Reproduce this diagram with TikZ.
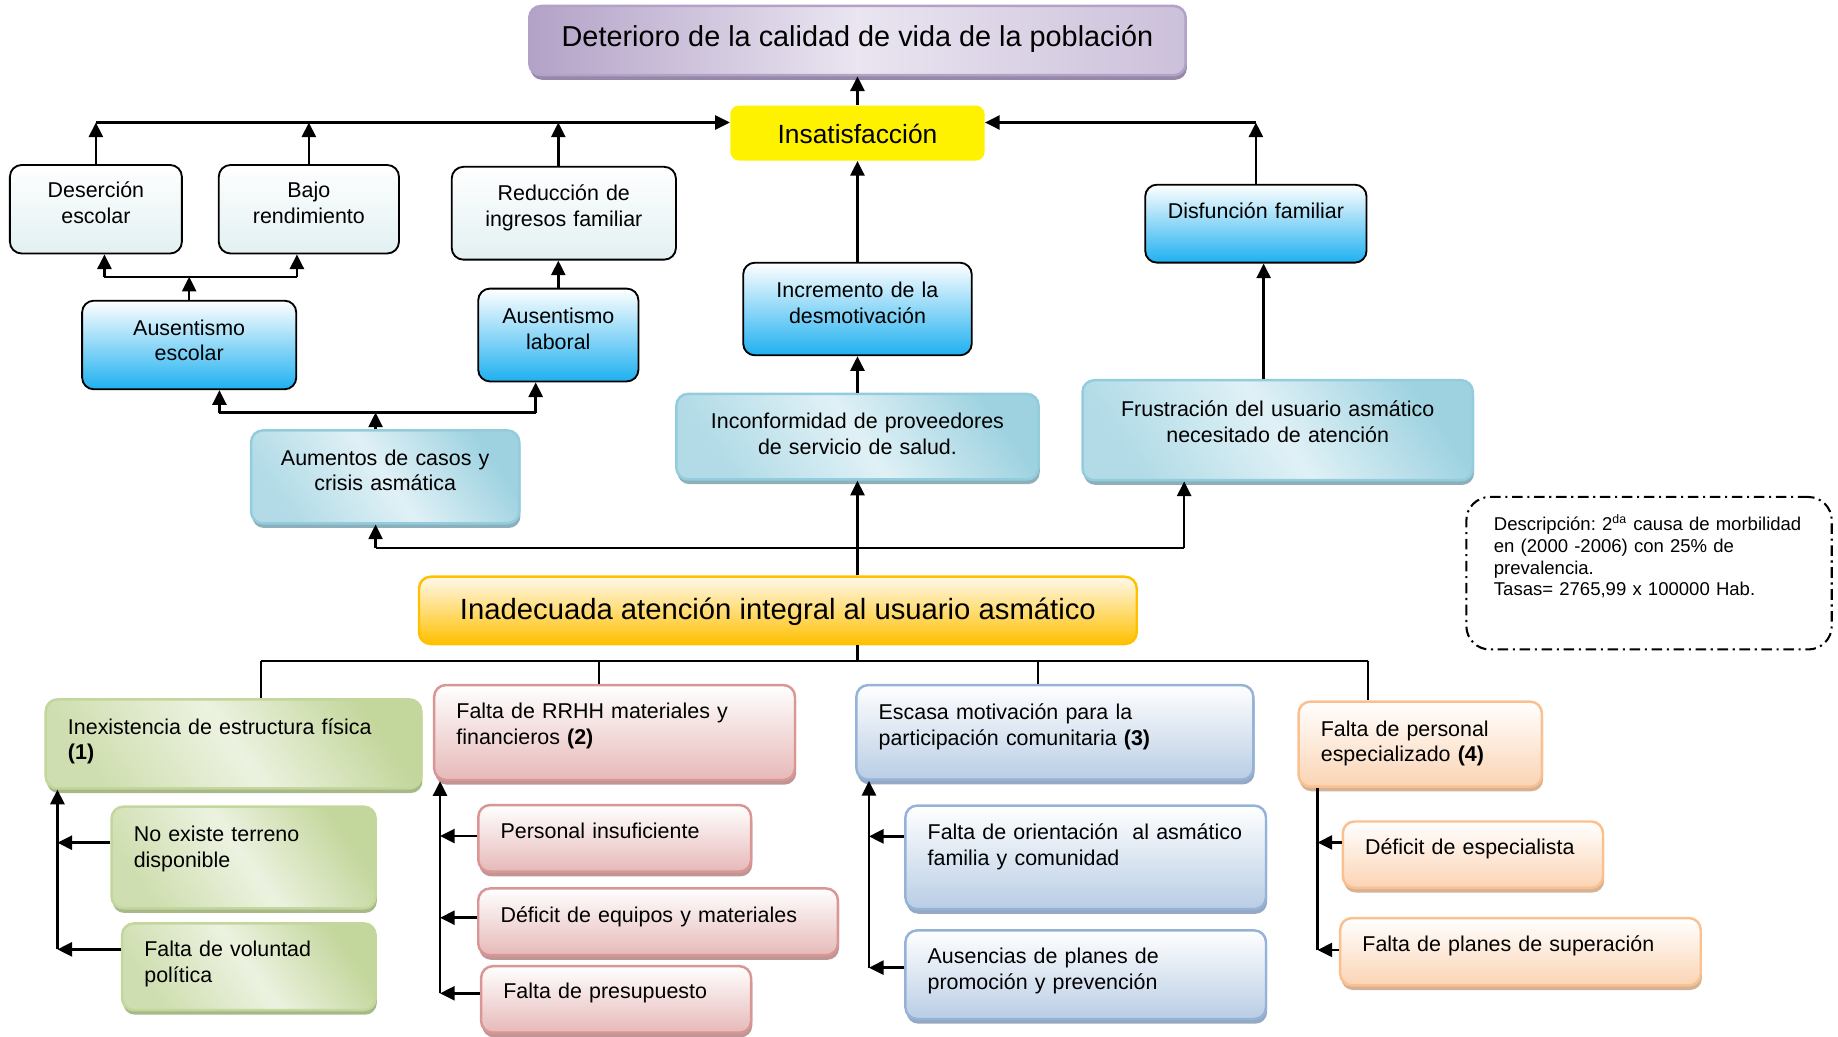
\documentclass[tikz,border=0pt]{standalone}
\usepackage{fontspec}
\setmainfont{Liberation Sans}
\usetikzlibrary{arrows.meta,shadows}
\frenchspacing

\definecolor{paleC}{RGB}{226,240,242}
\definecolor{skyC}{RGB}{30,176,240}
\definecolor{tealD}{RGB}{147,205,221}
\definecolor{tealL}{RGB}{224,241,246}
\definecolor{tealS}{RGB}{140,175,188}
\definecolor{purD}{RGB}{179,162,199}
\definecolor{purL}{RGB}{234,229,241}
\definecolor{purS}{RGB}{150,136,168}
\definecolor{greenD}{RGB}{195,214,155}
\definecolor{greenL}{RGB}{236,242,224}
\definecolor{greenS}{RGB}{168,184,136}
\definecolor{pinkD}{RGB}{230,185,184}
\definecolor{pinkB}{RGB}{217,150,148}
\definecolor{pinkS}{RGB}{190,150,150}
\definecolor{bluD}{RGB}{185,205,229}
\definecolor{bluB}{RGB}{149,179,215}
\definecolor{bluS}{RGB}{150,168,195}
\definecolor{peachD}{RGB}{251,212,180}
\definecolor{peachB}{RGB}{250,192,144}
\definecolor{peachS}{RGB}{212,178,150}
\definecolor{oraD}{RGB}{255,192,0}
\definecolor{oraL}{RGB}{255,249,235}

\begin{document}
\begin{tikzpicture}[x=0.2mm, y=-0.2mm,
    csize/.style 2 args={minimum width=#1*0.2mm, minimum height=#2*0.2mm,
                         text width={(#1-20)*0.2mm}, align=center},
    lsize/.style 2 args={text width={(#1-38)*0.2mm}, inner xsep=3.8mm,
                         minimum height=#2*0.2mm, align=left},
    lift/.style 2 args={text height=7.6pt, text depth={(#1-1)*12.5pt+2.4pt+(#2-1.6)*0.4mm}}]
    \tikzstyle{box}=[rectangle, rounded corners=2mm, inner xsep=1mm, inner ysep=0.5mm,
                     font=\fontsize{10.4}{12.5}\selectfont]
    \tikzstyle{palebox}=[box, draw=black, line width=0.9pt, top color=white, bottom color=paleC]
    \tikzstyle{skybox}=[box, draw=black, line width=0.9pt, top color=white, bottom color=skyC]
    \tikzstyle{tealbox}=[box, draw=tealD, line width=1.2pt, top color=tealD!85!tealL,
                         bottom color=tealD!60!tealL, middle color=tealL, shading angle=-55,
                         drop shadow={shadow xshift=0.2mm, shadow yshift=-0.8mm, fill=tealS, opacity=1}]
    \tikzstyle{purbox}=[box, draw=purD, line width=1.2pt, left color=purD,
                        right color=purD!55!purL, middle color=purL,
                        drop shadow={shadow xshift=0.2mm, shadow yshift=-0.8mm, fill=purS, opacity=1}]
    \tikzstyle{yellowbox}=[rectangle, rounded corners=1.5mm, fill=yellow]
    \tikzstyle{orabox}=[box, draw=oraD, line width=1.2pt, top color=oraL, bottom color=oraD]
    \tikzstyle{greenbox}=[box, draw=greenD, line width=1.2pt, top color=greenD,
                          bottom color=greenD!70!greenL, middle color=greenL, shading angle=-55,
                          drop shadow={shadow xshift=0.2mm, shadow yshift=-0.8mm, fill=greenS, opacity=1}]
    \tikzstyle{pinkbox}=[box, draw=pinkB, line width=1.2pt, top color=white, bottom color=pinkD,
                         drop shadow={shadow xshift=0.2mm, shadow yshift=-0.8mm, fill=pinkS, opacity=1}]
    \tikzstyle{blubox}=[box, draw=bluB, line width=1.2pt, top color=white, bottom color=bluD,
                        drop shadow={shadow xshift=0.2mm, shadow yshift=-0.8mm, fill=bluS, opacity=1}]
    \tikzstyle{peachbox}=[box, draw=peachB, line width=1.2pt, top color=white, bottom color=peachD,
                          drop shadow={shadow xshift=0.2mm, shadow yshift=-0.8mm, fill=peachS, opacity=1}]
    \tikzstyle{notebox}=[rectangle, rounded corners=4mm, draw=black, line width=1pt,
                         dash pattern=on 1.8mm off 0.8mm on 0.35mm off 0.8mm]
    \tikzstyle{arr}=[-{Triangle[length=2.5mm, width=2.4mm]}, line width=1.2pt]
    \tikzstyle{tree}=[line width=1pt]

    \useasboundingbox (0,0) rectangle (1568,884);

    % efectos
    \node[purbox, minimum width=560*0.2mm, minimum height=59*0.2mm, font=\fontsize{14}{16}\selectfont,
          text height=10pt, text depth=3pt+0.5mm] (deterioro) at (731.5,34.6)
          {Deterioro de la calidad de vida de la población};
    \node[yellowbox, minimum width=217*0.2mm, minimum height=47*0.2mm, font=\fontsize{12.8}{15}\selectfont,
          text height=9.3pt+1.2mm, text depth=2.7pt] (insat) at (731.5,113.5) {Insatisfacción};

    \node[palebox, csize={146.7}{75.5}, lift={2}{4.8}] (desercion) at (81.8,178.5) {Deserción\\escolar};
    \node[palebox, csize={153.7}{75.5}, lift={2}{4.8}] (bajo) at (263.5,178.5) {Bajo\\rendimiento};
    \node[palebox, csize={191.3}{79.2}, lift={2}{5.7}] (reduccion) at (481,181.9) {Reducción de\\ingresos familiar};
    \node[skybox, csize={188.8}{66.5}, lift={1}{11}] (disfuncion) at (1071.4,190.8) {Disfunción familiar};
    \node[skybox, csize={182.7}{75.6}, lift={2}{3.5}] (ausesc) at (161.4,294.3) {Ausentismo\\escolar};
    \node[skybox, csize={136.7}{79.2}, lift={2}{5}] (auslab) at (476.3,285.8) {Ausentismo\\laboral};
    \node[skybox, csize={195}{79}, lift={2}{5}] (incremento) at (731.5,263.6) {Incremento de la\\desmotivación};
    \node[tealbox, csize={228.8}{79.2}, lift={2}{5.2}] (aumentos) at (328.6,406.8) {Aumentos de casos y\\crisis asmática};
    \node[tealbox, csize={309}{73}, lift={2}{2}] (inconformidad) at (731.5,372.5)
          {Inconformidad de proveedores\\de servicio de salud.};
    \node[tealbox, csize={333}{85.3}, lift={2}{7}] (frustracion) at (1090,367)
          {Frustración del usuario asmático\\necesitado de atención};

    % problema central
    \node[orabox, minimum width=612.3*0.2mm, minimum height=57.4*0.2mm, font=\fontsize{14.2}{17}\selectfont,
          text height=10.3pt+0.6mm, text depth=3pt] (inadecuada) at (663.6,520.7)
          {Inadecuada atención integral al usuario asmático};

    \node[notebox, minimum height=130.1*0.2mm, text width={(311.7-47)*0.2mm}, inner xsep=23.5*0.2mm,
          align=left, font=\fontsize{9}{10.5}\selectfont, text height=6.6pt,
          text depth={3*10.5pt+2pt+12.4*0.4mm}] (nota) at (1406.8,489)
          {\mbox{Descripción: 2\textsuperscript{da} causa de morbilidad}\\en (2000 -2006) con 25\% de\\prevalencia.\\Tasas= 2765,99 x 100000 Hab.};

    % causas
    \node[greenbox, lsize={320.4}{75.9}, lift={2}{3.6}] (inexist) at (199.2,634.6)
          {Inexistencia de estructura física\\\textbf{(1)}};
    \node[greenbox, lsize={225.3}{86.7}, lift={2}{8.5}] (noexiste) at (207.8,731.5) {No existe terreno\\disponible};
    \node[greenbox, lsize={216.3}{73.9}, lift={2}{3.5}] (voluntad) at (212.3,824.7) {Falta de voluntad\\política};

    \node[pinkbox, lsize={307.8}{81}, lift={2}{7.1}] (rrhh) at (524.3,624.9)
          {Falta de RRHH materiales y\\financieros \textbf{(2)}};
    \node[pinkbox, lsize={232.7}{56.8}, lift={1}{5.7}] (personal) at (524.4,715.2) {Personal insuficiente};
    \node[pinkbox, lsize={306.8}{56.9}, lift={1}{5.8}] (deficit) at (561.4,786.4) {Déficit de equipos y materiales};
    \node[pinkbox, lsize={230.3}{56.8}, lift={1}{6.6}] (presupuesto) at (525.6,852.6) {Falta de presupuesto};

    \node[blubox, lsize={338.7}{80.7}, lift={2}{6}] (escasa) at (899.9,624.8)
          {Escasa motivación para la\\participación comunitaria \textbf{(3)}};
    \node[blubox, lsize={307.6}{88.3}, lift={2}{10.2}] (orientacion) at (926.2,731.4)
          {Falta de orientación\ \ al asmático\\familia y comunidad};
    \node[blubox, lsize={307.6}{75.6}, lift={2}{4.5}] (ausencias) at (926.2,831.5)
          {Ausencias de planes de\\promoción y prevención};

    \node[peachbox, lsize={207.6}{72.5}, lift={2}{2}] (fpersonal) at (1211.6,634.8)
          {Falta de personal\\especializado \textbf{(4)}};
    \node[peachbox, lsize={222}{56.6}, lift={1}{5.9}] (especialista) at (1256.5,729.1) {Déficit de especialista};
    \node[peachbox, lsize={307.6}{57.4}, lift={1}{6.1}] (superacion) at (1297.1,811.9) {Falta de planes de superación};

    % puntos de union
    \coordinate (bar) at (0,104.5);
    \coordinate (je1) at (89.1,236.1);
    \coordinate (je2) at (253.3,236.1);
    \coordinate (ja1) at (187.2,351.9);
    \coordinate (ja2) at (457,351.9);
    \coordinate (ma) at (320.4,467.6);
    \coordinate (mf) at (1010.2,467.6);
    \coordinate (fx) at (1078,0);
    \coordinate (d1) at (222.7,563.5);
    \coordinate (d2) at (510.6,563.5);
    \coordinate (d3) at (885.3,563.5);
    \coordinate (d4) at (1167,563.5);
    \coordinate (s1a) at (49,718.9);
    \coordinate (s1b) at (49,809.9);
    \coordinate (s2a) at (375.4,713.2);
    \coordinate (s2b) at (375.4,782.9);
    \coordinate (s2c) at (375.4,847.4);
    \coordinate (s3a) at (741.3,713.5);
    \coordinate (s3b) at (741.3,825.5);
    \coordinate (s4a) at (1124,718.7);
    \coordinate (s4b) at (1124,810.4);

    % flechas de efectos
    \draw[arr] (insat) -- (deterioro);
    \draw[arr] (desercion.north |- bar) -- (insat.west |- bar);
    \draw[arr] (desercion) -- (desercion |- bar);
    \draw[arr] (bajo) -- (bajo |- bar);
    \draw[arr] (reduccion.north -| auslab) -- (auslab |- bar);
    \draw[arr] (disfuncion) -- (disfuncion |- bar);
    \draw[arr] (disfuncion |- bar) -- (insat.east |- bar);

    \draw[arr] (ausesc) -- (ausesc |- je1);
    \draw[tree] (je1) -- (je2);
    \draw[arr] (je1) -- (je1 |- desercion.south);
    \draw[arr] (je2) -- (je2 |- bajo.south);
    \draw[arr] (auslab) -- (auslab |- reduccion.south);

    \draw[arr] (aumentos.north -| ma) -- (ma |- ja1);
    \draw[tree] (ja1) -- (ja2);
    \draw[arr] (ja1) -- (ja1 |- ausesc.south);
    \draw[arr] (ja2) -- (ja2 |- auslab.south);

    \draw[arr] (incremento) -- (insat);
    \draw[arr] (inconformidad) -- (incremento);
    \draw[arr] (frustracion.north -| fx) -- (disfuncion.south -| fx);

    \draw[arr] (inadecuada.north -| inconformidad) -- (inconformidad);
    \draw[tree] (ma) -- (mf);
    \draw[arr] (ma) -- (ma |- aumentos.south);
    \draw[arr] (mf) -- (mf |- frustracion.south);

    % arbol de causas
    \draw[tree] (inadecuada.south -| inconformidad) -- (inconformidad |- d1);
    \draw[tree] (d1) -- (d4);
    \draw[tree] (d1) -- (d1 |- inexist.north);
    \draw[tree] (d2) -- (d2 |- rrhh.north);
    \draw[tree] (d3) -- (d3 |- escasa.north);
    \draw[tree] (d4) -- (d4 |- fpersonal.north);

    \draw[arr] (s1b) -- (s1b |- inexist.south);
    \draw[arr] (noexiste.west |- s1a) -- (s1a);
    \draw[arr] (voluntad.west |- s1b) -- (s1b);

    \draw[arr] (s2c) -- (s2c |- rrhh.south);
    \draw[arr] (personal.west |- s2a) -- (s2a);
    \draw[arr] (deficit.west |- s2b) -- (s2b);
    \draw[arr] (presupuesto.west |- s2c) -- (s2c);

    \draw[arr] (s3b) -- (s3b |- escasa.south);
    \draw[arr] (orientacion.west |- s3a) -- (s3a);
    \draw[arr] (ausencias.west |- s3b) -- (s3b);

    \draw[line width=1.2pt] (s4b |- fpersonal.south) -- (s4b);
    \draw[arr] (especialista.west |- s4a) -- (s4a);
    \draw[arr] (superacion.west |- s4b) -- (s4b);

\end{tikzpicture}
\end{document}
